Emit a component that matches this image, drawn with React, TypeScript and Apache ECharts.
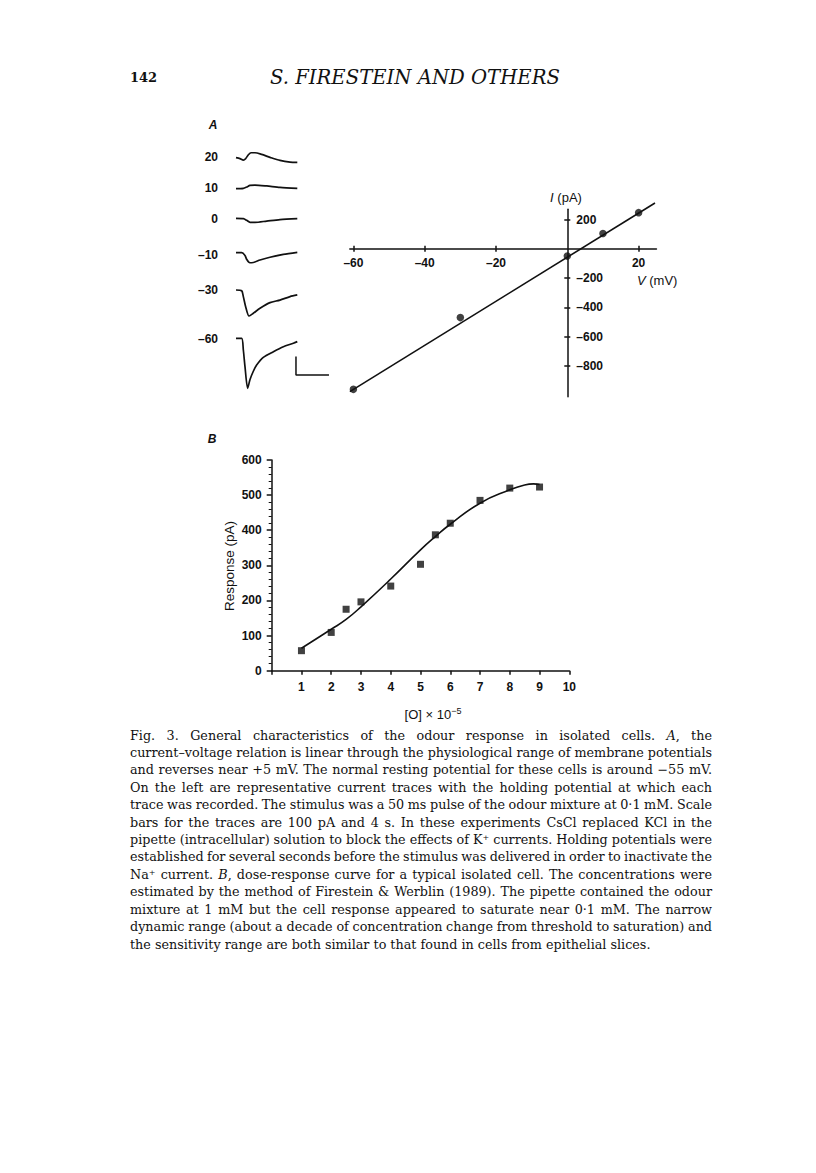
import React, { useEffect, useRef } from "react";
import * as echarts from "echarts";

const W = 816;
const H = 1173;

// ---------- Panel A : current-voltage relation ----------
const ivVoltage = [-60, -30, 0, 10, 20];
const ivCurrent = [-960, -470, -50, 105, 247];
const ivFitV = [-61, 24.6];
const ivFitI = [-976, 313];
const ivXTicks = [-60, -40, -20, 20];
const ivYTicks = [200, -200, -400, -600, -800];

// ---------- Panel A : current traces (time s, current pA) ----------
const traceLabels = ["20", "10", "0", "–10", "–30", "–60"];
const trace20: number[][] = [[0, 0], [0.48, -5], [0.89, -13], [1.17, -5], [1.5, 16], [1.82, 27], [2.3, 27], [3.11, 18], [4.12, 2], [5.33, -15], [6.55, -24], [7.43, -25]];
const trace10: number[][] = [[0, 0], [0.89, 2], [1.29, 9], [1.7, 18], [2.3, 20], [3.72, 15], [5.33, 7], [7.43, 2]];
const trace0: number[][] = [[0, 0], [0.89, -2], [1.29, -11], [1.7, -22], [2.3, -22], [3.72, -15], [5.33, -7], [7.43, -2]];
const traceM10: number[][] = [[0, 0], [0.69, 0], [1.09, -15], [1.29, -36], [1.58, -53], [1.9, -55], [2.91, -40], [4.12, -25], [5.74, -9], [7.43, 2]];
const traceM30: number[][] = [[0, 0], [0.69, -4], [0.89, -36], [1.17, -91], [1.58, -142], [2.1, -127], [2.91, -100], [4.12, -69], [5.33, -55], [6.55, -36], [7.43, -27]];
const traceM60: number[][] = [[0, 0], [0.69, 0], [0.89, -64], [1.09, -155], [1.41, -273], [1.7, -225], [2.1, -180], [2.5, -146], [3.31, -104], [4.53, -73], [5.74, -46], [6.95, -27], [7.43, -18]];
const traces = [trace20, trace10, trace0, traceM10, traceM30, traceM60];
const scaleBarT = [7.27, 7.27, 11.27];
const scaleBarI = [-100, -200, -200];

// ---------- Panel B : dose-response ----------
const doseConc = [1, 2, 2.5, 3, 4, 5, 5.5, 6, 7, 8, 9];
const doseResp = [57, 109, 175, 196, 241, 303, 387, 420, 485, 520, 523];
const fitConc = [1, 2, 2.5, 3, 4, 5, 5.5, 6, 7, 8, 8.5, 8.8, 9];
const fitResp = [64, 118, 146, 182, 261, 344, 382, 417, 477, 515, 529, 532, 530];
const doseXTicks = [1, 2, 3, 4, 5, 6, 7, 8, 9, 10];
const doseYTicks = [0, 100, 200, 300, 400, 500, 600];

// ---------- Text ----------
const headerPage = "142";
const headerTitle = "S. FIRESTEIN AND OTHERS";
const captionLines = [
  "Fig. 3. General characteristics of the odour response in isolated cells. _A_, the",
  "current–voltage relation is linear through the physiological range of membrane potentials",
  "and reverses near +5 mV. The normal resting potential for these cells is around −55 mV.",
  "On the left are representative current traces with the holding potential at which each",
  "trace was recorded. The stimulus was a 50 ms pulse of the odour mixture at 0·1 mM. Scale",
  "bars for the traces are 100 pA and 4 s. In these experiments CsCl replaced KCl in the",
  "pipette (intracellular) solution to block the effects of K⁺ currents. Holding potentials were",
  "established for several seconds before the stimulus was delivered in order to inactivate the",
  "Na⁺ current. _B_, dose-response curve for a typical isolated cell. The concentrations were",
  "estimated by the method of Firestein & Werblin (1989). The pipette contained the odour",
  "mixture at 1 mM but the cell response appeared to saturate near 0·1 mM. The narrow",
  "dynamic range (about a decade of concentration change from threshold to saturation) and",
  "the sensitivity range are both similar to that found in cells from epithelial slices.",
];

const SANS = '"Liberation Sans", Arial, Helvetica, sans-serif';
const SERIF = '"DejaVu Serif", serif';
const INK = "#111";

const minusFmt = (v: number) => (v < 0 ? "–" + Math.abs(v) : String(v));

export default function App() {
  const ref = useRef<HTMLDivElement>(null);

  useEffect(() => {
    const el = ref.current;
    if (!el) return;
    const chart = echarts.init(el, null, { renderer: "svg", width: W, height: H });

    const ctx = document.createElement("canvas").getContext("2d")!;
    const measure = (t: string, size: number, italic: boolean, bold = false) => {
      ctx.font = `${italic ? "italic " : ""}${bold ? "bold " : ""}${size}px ${SERIF}`;
      return ctx.measureText(t).width;
    };

    // ----- caption layout (justified) -----
    const capLeft = 130;
    const capWidth = 582;
    const lastTarget = 521;
    const lastPlain = captionLines[captionLines.length - 1];
    const capSize = (12 * lastTarget) / measure(lastPlain, 12, false);
    const capTop = 735;
    const capStep = 17.42;
    const graphics: any[] = [];

    captionLines.forEach((line, li) => {
      const words = line.split(" ").map((w) => {
        const segs = w.split(/(_[^_]+_)/).filter((s) => s.length > 0).map((s) => {
          const it = /^_.*_$/.test(s);
          const txt = it ? s.slice(1, -1) : s;
          return { txt, it, w: measure(txt, capSize, it) };
        });
        return { segs, w: segs.reduce((a, s) => a + s.w, 0) };
      });
      const total = words.reduce((a, w) => a + w.w, 0);
      const isLast = li === captionLines.length - 1;
      const gap = isLast ? measure(" ", capSize, false) : (capWidth - total) / (words.length - 1);
      let x = capLeft;
      const y = capTop + li * capStep;
      words.forEach((wd) => {
        let sx = x;
        wd.segs.forEach((s) => {
          graphics.push({
            type: "text",
            x: sx,
            y,
            silent: true,
            style: {
              text: s.txt,
              fill: INK,
              fontFamily: SERIF,
              fontSize: capSize,
              fontStyle: s.it ? "italic" : "normal",
              textAlign: "left",
              textVerticalAlign: "middle",
            },
          });
          sx += s.w;
        });
        x += wd.w + gap;
      });
    });

    // ----- header -----
    const titleSize = (15 * 290) / measure(headerTitle, 15, true);
    graphics.push({
      type: "text", x: 130, y: 77,
      style: { text: headerPage, fill: INK, fontFamily: SERIF, fontSize: 13, fontWeight: "bold", textAlign: "left", textVerticalAlign: "middle" },
    });
    graphics.push({
      type: "text", x: 270, y: 77,
      style: { text: headerTitle, fill: INK, fontFamily: SERIF, fontSize: titleSize, fontStyle: "italic", textAlign: "left", textVerticalAlign: "middle" },
    });

    // ----- panel letters -----
    graphics.push({
      type: "text", x: 213, y: 125,
      style: { text: "A", fill: INK, fontFamily: SANS, fontSize: 12, fontStyle: "italic", fontWeight: "bold", textAlign: "center", textVerticalAlign: "middle" },
    });
    graphics.push({
      type: "text", x: 212, y: 439,
      style: { text: "B", fill: INK, fontFamily: SANS, fontSize: 12, fontStyle: "italic", fontWeight: "bold", textAlign: "center", textVerticalAlign: "middle" },
    });

    // ----- trace labels -----
    const traceLabelY = [156.7, 188.3, 219, 255, 290, 339.3];
    traceLabels.forEach((t, i) => {
      graphics.push({
        type: "text", x: 218, y: traceLabelY[i],
        style: { text: t, fill: INK, fontFamily: SANS, fontSize: 12, fontWeight: "bold", textAlign: "right", textVerticalAlign: "middle" },
      });
    });

    // ----- axis titles -----
    graphics.push({
      type: "text", x: 566, y: 197,
      style: {
        text: "{i|I} (pA)", fill: INK, fontFamily: SANS, fontSize: 13, textAlign: "center", textVerticalAlign: "middle",
        rich: { i: { fontStyle: "italic", fontFamily: SANS, fontSize: 13, fill: INK } },
      },
    });
    graphics.push({
      type: "text", x: 637, y: 280,
      style: {
        text: "{i|V} (mV)", fill: INK, fontFamily: SANS, fontSize: 13, textAlign: "left", textVerticalAlign: "middle",
        rich: { i: { fontStyle: "italic", fontFamily: SANS, fontSize: 13, fill: INK } },
      },
    });
    graphics.push({
      type: "text", x: 229, y: 566, rotation: Math.PI / 2,
      style: { text: "Response (pA)", fill: INK, fontFamily: SANS, fontSize: 13.5, textAlign: "center", textVerticalAlign: "middle" },
    });
    graphics.push({
      type: "text", x: 433, y: 714,
      style: {
        text: "[O] × 10{s|−5}", fill: INK, fontFamily: SANS, fontSize: 13, textAlign: "center", textVerticalAlign: "middle",
        rich: { s: { fontSize: 9, verticalAlign: "top", padding: [0, 0, 7, 0], fontFamily: SANS, fill: INK } },
      },
    });

    // ----- geometry of the I-V panel -----
    const ivZeroX = 567.3;
    const ivPxPerMV = 3.565;
    const ivZeroY = 248.8;
    const ivPxPerPA = 0.1464;
    const ivMin = -61, ivMax = 25, iMin = -1010, iMax = 270;
    const ivLeft = ivZeroX + ivMin * ivPxPerMV;
    const ivWidth = (ivMax - ivMin) * ivPxPerMV;
    const ivTop = ivZeroY - iMax * ivPxPerPA;
    const ivHeight = (iMax - iMin) * ivPxPerPA;

    const axisLabelSans = { fontFamily: SANS, fontSize: 12, fontWeight: "bold", color: INK };
    const lineStyle = { color: INK, width: 1.5 };
    const hidden = { show: false, splitLine: { show: false } };

    const grids: any[] = [];
    const xAxes: any[] = [];
    const yAxes: any[] = [];

    // grid 0: I-V data (axes hidden)
    grids.push({ left: ivLeft, width: ivWidth, top: ivTop, height: ivHeight });
    xAxes.push({ gridIndex: 0, type: "value", min: ivMin, max: ivMax, ...hidden });
    yAxes.push({ gridIndex: 0, type: "value", min: iMin, max: iMax, ...hidden });

    // grid 1: upper half -> x axis along I = 0 with labels and downward ticks
    grids.push({ left: ivLeft, width: ivWidth, top: ivTop, height: iMax * ivPxPerPA });
    xAxes.push({
      gridIndex: 1, type: "value", min: ivMin, max: ivMax, position: "bottom",
      axisLine: { show: true, onZero: false, lineStyle },
      axisTick: { show: true, length: 3, customValues: ivXTicks, lineStyle },
      axisLabel: { show: true, customValues: ivXTicks, margin: 8, formatter: minusFmt, ...axisLabelSans },
      splitLine: { show: false },
    });
    yAxes.push({ gridIndex: 1, type: "value", min: 0, max: iMax, ...hidden });

    // grid 2: lower half -> upward ticks on the same line
    grids.push({ left: ivLeft, width: ivWidth, top: ivZeroY, height: -iMin * ivPxPerPA });
    xAxes.push({
      gridIndex: 2, type: "value", min: ivMin, max: ivMax, position: "top",
      axisLine: { show: false, onZero: false },
      axisTick: { show: true, length: 3, customValues: ivXTicks, lineStyle },
      axisLabel: { show: false },
      splitLine: { show: false },
    });
    yAxes.push({ gridIndex: 2, type: "value", min: iMin, max: 0, ...hidden });

    // grid 3: right part -> y axis along V = 0, labels to the right, ticks left
    grids.push({ left: ivZeroX, width: ivMax * ivPxPerMV, top: ivTop, height: ivHeight });
    xAxes.push({ gridIndex: 3, type: "value", min: 0, max: ivMax, ...hidden });
    yAxes.push({
      gridIndex: 3, type: "value", min: iMin, max: iMax, position: "left",
      axisLine: { show: true, onZero: false, lineStyle },
      axisTick: { show: true, length: 3, customValues: ivYTicks, lineStyle },
      axisLabel: { show: true, inside: true, customValues: ivYTicks, margin: 9, formatter: minusFmt, ...axisLabelSans },
      splitLine: { show: false },
    });

    // grid 4: left part -> ticks to the right on the same line
    grids.push({ left: ivLeft, width: -ivMin * ivPxPerMV, top: ivTop, height: ivHeight });
    xAxes.push({ gridIndex: 4, type: "value", min: ivMin, max: 0, ...hidden });
    yAxes.push({
      gridIndex: 4, type: "value", min: iMin, max: iMax, position: "right",
      axisLine: { show: false, onZero: false },
      axisTick: { show: true, length: 3, customValues: ivYTicks, lineStyle },
      axisLabel: { show: false },
      splitLine: { show: false },
    });

    // grid 5: dose-response
    grids.push({ left: 271.7, width: 297.6, top: 460, height: 210.7 });
    xAxes.push({
      gridIndex: 5, type: "value", min: 0, max: 10, interval: 1, position: "bottom",
      axisLine: { show: true, onZero: false, lineStyle },
      axisTick: { show: true, length: 4, lineStyle },
      axisLabel: { show: true, customValues: doseXTicks, margin: 10, ...axisLabelSans },
      splitLine: { show: false },
    });
    yAxes.push({
      gridIndex: 5, type: "value", min: 0, max: 600, interval: 100, position: "left",
      axisLine: { show: true, onZero: false, lineStyle },
      axisTick: { show: true, length: 5, customValues: doseYTicks, lineStyle },
      minorTick: { show: true, splitNumber: 5, length: 3, lineStyle: { color: INK, width: 1 } },
      axisLabel: { show: true, customValues: doseYTicks, margin: 10, ...axisLabelSans },
      splitLine: { show: false },
      minorSplitLine: { show: false },
    });

    // grids 6..11: current traces
    const traceBase = [157.7, 188.7, 218.3, 252.7, 290, 338.3];
    const trPxPerPA = 1 / 5.46;
    const trPxPerS = 8.25;
    const traceGrid0 = grids.length;
    traceBase.forEach((b, i) => {
      grids.push({ left: 236, width: 12 * trPxPerS, top: b - 100 * trPxPerPA, height: 400 * trPxPerPA });
      xAxes.push({ gridIndex: traceGrid0 + i, type: "value", min: 0, max: 12, ...hidden });
      yAxes.push({ gridIndex: traceGrid0 + i, type: "value", min: -300, max: 100, ...hidden });
    });

    const series: any[] = [
      {
        type: "line", xAxisIndex: 0, yAxisIndex: 0, clip: false,
        data: ivFitV.map((v, i) => [v, ivFitI[i]]),
        showSymbol: false, lineStyle: { color: INK, width: 1.6 }, silent: true,
      },
      {
        type: "scatter", xAxisIndex: 0, yAxisIndex: 0, clip: false,
        data: ivVoltage.map((v, i) => [v, ivCurrent[i]]),
        symbol: "circle", symbolSize: 7.5, itemStyle: { color: INK },
      },
      {
        type: "line", xAxisIndex: 5, yAxisIndex: 5,
        data: fitConc.map((c, i) => [c, fitResp[i]]),
        smooth: true, showSymbol: false, lineStyle: { color: INK, width: 1.6 }, silent: true,
      },
      {
        type: "scatter", xAxisIndex: 5, yAxisIndex: 5,
        data: doseConc.map((c, i) => [c, doseResp[i]]),
        symbol: "rect", symbolSize: 7, itemStyle: { color: INK },
      },
    ];
    traces.forEach((tr, i) => {
      series.push({
        type: "line", xAxisIndex: traceGrid0 + i, yAxisIndex: traceGrid0 + i, clip: false,
        data: tr, smooth: 0.25, showSymbol: false,
        lineStyle: { color: INK, width: 1.7 }, silent: true,
      });
    });
    series.push({
      type: "line", xAxisIndex: traceGrid0 + 5, yAxisIndex: traceGrid0 + 5, clip: false,
      data: scaleBarT.map((t, i) => [t, scaleBarI[i]]),
      showSymbol: false, lineStyle: { color: INK, width: 1.5 }, silent: true,
    });

    chart.setOption({
      animation: false,
      backgroundColor: "#ffffff",
      grid: grids,
      xAxis: xAxes,
      yAxis: yAxes,
      series,
      graphic: graphics,
    });

    return () => {
      chart.dispose();
    };
  }, []);

  return (
    <div
      ref={ref}
      style={{ position: "absolute", left: 0, top: 0, width: W, height: H, background: "#fff" }}
    />
  );
}
